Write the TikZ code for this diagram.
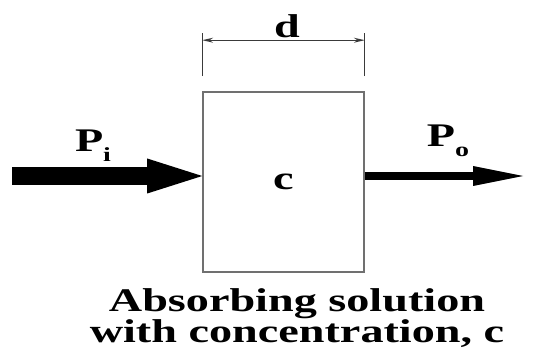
\documentclass[tikz,border=0pt]{standalone}
\usepackage{fontspec}
\newfontfamily\figfont{Liberation Serif}[FakeStretch=1.4]
\usetikzlibrary{arrows.meta, positioning}
\definecolor{cgrey}{HTML}{707070}
\definecolor{cdark}{HTML}{3A3A3A}
\newcommand{\lowsub}[1]{\raisebox{-10pt}{\fontsize{20}{20}\selectfont #1}}
\tikzset{
  every picture/.style={font=\figfont\bfseries},
  lbl/.style={font=\figfont\bfseries\fontsize{33}{29}\selectfont, inner sep=0pt, align=center},
  dim/.style={draw=cdark, line width=1.2pt},
}

\begin{document}
\begin{tikzpicture}[x=1pt, y=-1pt,
  cell/.style={draw=cgrey, line width=1.6pt, minimum width=161pt, minimum height=180pt, inner sep=0pt, font=\figfont\bfseries\fontsize{33}{29}\selectfont},
  beamin/.style={line width=18pt, -{Triangle[length=55pt, width=35pt, line width=0pt]}},
  beamout/.style={line width=8pt, -{Triangle[length=50pt, width=20pt, line width=0pt]}}]
  \useasboundingbox (0,0) rectangle (542,353);
  % cell with the solution
  \node[cell] (cell) at (283.5,182) {c};
  % thickness d
  \coordinate (dl) at ([yshift=15pt]cell.north west);
  \coordinate (dr) at ([yshift=15pt]cell.north east);
  \draw[dim] (dl) -- ++(0,-43);
  \draw[dim] (dr) -- ++(0,-43);
  \draw[dim, {Stealth[length=11pt, width=5pt, line width=0pt]}-{Stealth[length=11pt, width=5pt, line width=0pt]}]
    ([yshift=51pt]cell.north west) -- ([yshift=51pt]cell.north east);
  \node[lbl] (dlab) at (287,26) {d};
  % beams
  \coordinate (src) at (12,176);
  \coordinate (dst) at (523,176);
  \draw[beamin] (src) -- (src -| cell.west);
  \draw[beamout] (cell.east |- dst) -- (dst);
  \node[lbl] (pin) at (93,146) {P\lowsub{i}};
  \node[lbl] (pout) at (448,141) {P\lowsub{o}};
  % caption
  \node[lbl] (cap) at (297,318) {Absorbing solution\\with concentration, c};
\end{tikzpicture}
\end{document}
